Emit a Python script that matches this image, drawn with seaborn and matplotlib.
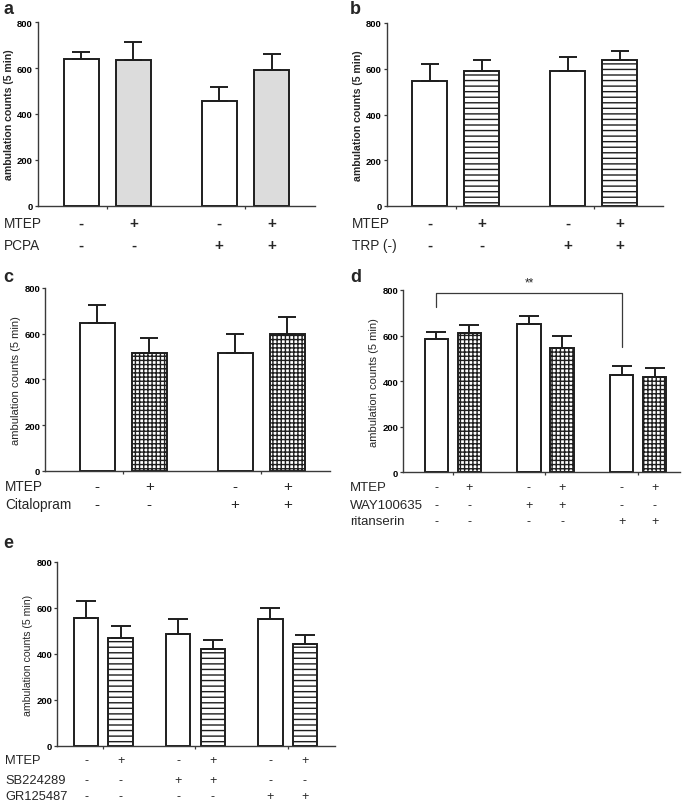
import numpy as np
import pandas as pd
import matplotlib
matplotlib.use("Agg")
import matplotlib.pyplot as plt
import matplotlib.transforms as mtrans
import seaborn as sns

# ---------------- data ----------------
a_mean = [640, 636, 458, 590]
a_sem = [29, 80, 61, 73]
a_rows = ["MTEP", "PCPA"]
a_signs = [["-", "+", "-", "+"], ["-", "-", "+", "+"]]

b_mean = [545, 590, 590, 640]
b_sem = [76, 50, 60, 36]
b_rows = ["MTEP", "TRP (-)"]
b_signs = [["-", "+", "-", "+"], ["-", "-", "+", "+"]]

c_mean = [647, 514, 514, 597]
c_sem = [80, 66, 83, 75]
c_rows = ["MTEP", "Citalopram"]
c_signs = [["-", "+", "-", "+"], ["-", "-", "+", "+"]]

d_mean = [585, 611, 649, 547, 427, 420]
d_sem = [32, 37, 38, 49, 38, 36]
d_rows = ["MTEP", "WAY100635", "ritanserin"]
d_signs = [["-", "+", "-", "+", "-", "+"],
           ["-", "-", "+", "+", "-", "-"],
           ["-", "-", "-", "-", "+", "+"]]
d_sig_pair = (0, 4)
d_sig_levels = [724, 785, 548]   # left leg end, bracket top, right leg end
d_sig_text = "**"

e_mean = [558, 470, 486, 423, 551, 442]
e_sem = [71, 50, 65, 38, 49, 42]
e_rows = ["MTEP", "SB224289", "GR125487"]
e_signs = [["-", "+", "-", "+", "-", "+"],
           ["-", "-", "+", "+", "-", "-"],
           ["-", "-", "-", "-", "+", "+"]]

ylabel = "ambulation counts (5 min)"
yticks = [0, 200, 400, 600, 800]

# ---------------- style ----------------
sns.set_style("ticks")
plt.rcParams["font.family"] = ["Liberation Sans", "DejaVu Sans"]
plt.rcParams["hatch.linewidth"] = 1.0

W, H = 685, 803
EDGE = "#1e1e1e"
AXC = "#3a3a3a"

fig = plt.figure(figsize=(W / 100, H / 100), dpi=100)


def draw_panel(box, letter, letter_xy, mean, sem, rows, signs, row_y, label_x,
               fill, hatch, gap, pad, width, bold, ylab_fs, table_fs, sign_fs,
               capsize):
    x0, y0, x1, y1 = box
    ax = fig.add_axes([x0 / W, 1 - y1 / H, (x1 - x0) / W, (y1 - y0) / H])
    n = len(mean)
    pos = [(i // 2) * gap + (i % 2) for i in range(n)]
    df = pd.DataFrame({"pos": pos, "count": mean})
    sns.barplot(data=df, x="pos", y="count", native_scale=True, width=width,
                color="white", saturation=1, edgecolor=EDGE, linewidth=1.4,
                errorbar=None, ax=ax)
    for i, bar in enumerate(ax.patches):
        if i % 2 == 1:
            bar.set_facecolor(fill)
            if hatch:
                bar.set_hatch(hatch)
    ax.errorbar(pos, mean, yerr=[np.zeros(n), sem], fmt="none", ecolor=EDGE,
                elinewidth=1.4, capsize=capsize, capthick=1.4, zorder=1)

    ax.set_ylim(0, 800)
    ax.set_xlim(pos[0] - pad[0], pos[-1] + pad[1])
    ax.set_yticks(yticks)
    ax.set_yticklabels([str(t) for t in yticks], fontsize=6.8, fontweight="bold")
    groups = [g * gap + 0.5 for g in range(n // 2)]
    ax.set_xticks(groups)
    ax.set_xticklabels([])
    ax.set_xlabel("")
    ax.set_ylabel(ylabel, fontsize=ylab_fs,
                  fontweight="bold" if bold else "normal", labelpad=2)
    sns.despine(ax=ax)
    for sp in ("left", "bottom"):
        ax.spines[sp].set_color(AXC)
        ax.spines[sp].set_linewidth(1.0)
    ax.tick_params(axis="both", colors=AXC, length=2.5, width=0.9, pad=1,
                   labelcolor="black")

    trans = mtrans.blended_transform_factory(ax.transData, fig.transFigure)
    for r, name in enumerate(rows):
        yy = 1 - row_y[r] / H
        fig.text(label_x / W, yy, name, fontsize=table_fs, ha="left",
                 va="center")
        for i, s in enumerate(signs[r]):
            ax.text(pos[i], yy, s, transform=trans, fontsize=sign_fs,
                    ha="center", va="center",
                    fontweight="bold" if bold else "normal", clip_on=False)

    fig.text(letter_xy[0] / W, 1 - letter_xy[1] / H, letter, fontsize=13,
             fontweight="bold", ha="left", va="center")
    return ax, pos


draw_panel((37.7, 23.3, 315, 206.7), "a", (3, 10), a_mean, a_sem, a_rows,
           a_signs, [224, 246], 4, "#dcdcdc", None, 2.64, (0.83, 0.83), 0.67,
           True, 7.6, 9.8, 11, 6.8)

draw_panel((386.7, 24, 662.7, 207), "b", (350, 10), b_mean, b_sem, b_rows,
           b_signs, [224, 246], 352, "white", "---", 2.64, (0.82, 0.82), 0.67,
           True, 7.6, 9.8, 11, 6.8)

draw_panel((45, 289, 330, 471.7), "c", (3, 277), c_mean, c_sem, c_rows,
           c_signs, [487, 505], 5, "white", "++++", 2.65, (1.0, 0.82), 0.67,
           False, 8, 9.8, 11, 6.8)

ax_d, pos_d = draw_panel((403, 291, 680, 473.3), "d", (350, 278), d_mean,
                         d_sem, d_rows, d_signs, [488, 506, 522], 350, "white",
                         "++++", 2.8, (1.0, 0.76), 0.70, False, 8, 9.5, 9,
                         7.5)

xl, xr = pos_d[d_sig_pair[0]], pos_d[d_sig_pair[1]]
ax_d.plot([xl, xl, xr, xr],
          [d_sig_levels[0], d_sig_levels[1], d_sig_levels[1], d_sig_levels[2]],
          color=AXC, lw=0.9, clip_on=False)
ax_d.text((xl + xr) / 2, d_sig_levels[1] + 20, d_sig_text, ha="center",
          va="bottom", fontsize=8.5, clip_on=False)

draw_panel((57, 563, 335, 747), "e", (3, 543), e_mean, e_sem, e_rows,
           e_signs, [761, 781, 797], 5, "white", "---", 2.67, (0.84, 0.87),
           0.70, False, 7.6, 9.3, 9, 7.5)

fig.savefig("out.png", dpi=100)
